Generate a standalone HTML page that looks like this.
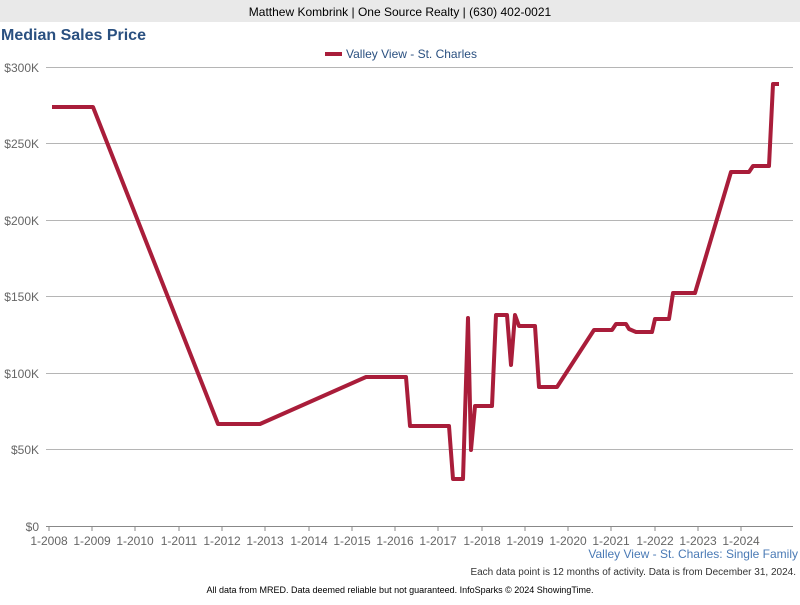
<!DOCTYPE html>
<html><head><meta charset="utf-8"><style>
body{margin:0;width:800px;height:600px;background:#fff;font-family:"Liberation Sans",sans-serif;overflow:hidden}
</style></head><body>
<svg width="800" height="600" xmlns="http://www.w3.org/2000/svg" font-family="Liberation Sans, sans-serif">
<rect x="0" y="0" width="800" height="22" fill="#e9e9e9"/>
<text x="400" y="16" font-size="12" text-anchor="middle" fill="#000">Matthew Kombrink | One Source Realty | (630) 402-0021</text>
<text x="1" y="40" font-size="16" font-weight="bold" fill="#2a5080">Median Sales Price</text>
<line x1="325" y1="54" x2="342" y2="54" stroke="#a91d3a" stroke-width="4"/>
<text x="346" y="58" font-size="12" fill="#2a5080">Valley View - St. Charles</text>
<g stroke="#b5b5b5" stroke-width="1">
<line x1="46" y1="67.5" x2="793" y2="67.5"/>
<line x1="46" y1="143.5" x2="793" y2="143.5"/>
<line x1="46" y1="220.5" x2="793" y2="220.5"/>
<line x1="46" y1="296.5" x2="793" y2="296.5"/>
<line x1="46" y1="373.5" x2="793" y2="373.5"/>
<line x1="46" y1="449.5" x2="793" y2="449.5"/>
</g>
<line x1="46" y1="526.5" x2="793" y2="526.5" stroke="#888"/>
<g font-size="12" fill="#666" text-anchor="end">
<text x="39" y="72">$300K</text><text x="39" y="148">$250K</text><text x="39" y="225">$200K</text>
<text x="39" y="301">$150K</text><text x="39" y="378">$100K</text><text x="39" y="454">$50K</text><text x="39" y="531">$0</text>
</g>
<g stroke="#888">
<line x1="49" y1="526" x2="49" y2="531"/><line x1="92" y1="526" x2="92" y2="531"/><line x1="135" y1="526" x2="135" y2="531"/><line x1="179" y1="526" x2="179" y2="531"/><line x1="222" y1="526" x2="222" y2="531"/><line x1="265" y1="526" x2="265" y2="531"/><line x1="309" y1="526" x2="309" y2="531"/><line x1="352" y1="526" x2="352" y2="531"/><line x1="395" y1="526" x2="395" y2="531"/><line x1="438" y1="526" x2="438" y2="531"/><line x1="482" y1="526" x2="482" y2="531"/><line x1="525" y1="526" x2="525" y2="531"/><line x1="568" y1="526" x2="568" y2="531"/><line x1="611" y1="526" x2="611" y2="531"/><line x1="655" y1="526" x2="655" y2="531"/><line x1="698" y1="526" x2="698" y2="531"/><line x1="741" y1="526" x2="741" y2="531"/>
</g>
<g font-size="12" fill="#666" text-anchor="middle">
<text x="49" y="545">1-2008</text><text x="92" y="545">1-2009</text><text x="135" y="545">1-2010</text><text x="179" y="545">1-2011</text><text x="222" y="545">1-2012</text><text x="265" y="545">1-2013</text><text x="309" y="545">1-2014</text><text x="352" y="545">1-2015</text><text x="395" y="545">1-2016</text><text x="438" y="545">1-2017</text><text x="482" y="545">1-2018</text><text x="525" y="545">1-2019</text><text x="568" y="545">1-2020</text><text x="611" y="545">1-2021</text><text x="655" y="545">1-2022</text><text x="698" y="545">1-2023</text><text x="741" y="545">1-2024</text>
</g>
<polyline fill="none" stroke="#a91d3a" stroke-width="4" stroke-linejoin="round" points="52,107 93,107 218,424 260,424 366,377 406,377 410,426 449,426 453,479 463,479 468,318 471,450 475,406 492,406 496,315 507,315 511,365 515,315 519,326 535,326 539,387 557,387 594,330 612,330 616,324 626,324 629,329 636,332 652,332 655,319 669,319 673,293 695,293 731,172 749,172 753,166 769,166 773,84 779,84"/>
<text x="798" y="558" font-size="12" fill="#4a7ab5" text-anchor="end">Valley View - St. Charles: Single Family</text>
<text x="796" y="575" font-size="10" fill="#333" text-anchor="end">Each data point is 12 months of activity. Data is from December 31, 2024.</text>
<text x="400" y="593" font-size="9" fill="#000" text-anchor="middle">All data from MRED. Data deemed reliable but not guaranteed. InfoSparks © 2024 ShowingTime.</text>
</svg>
</body></html>
